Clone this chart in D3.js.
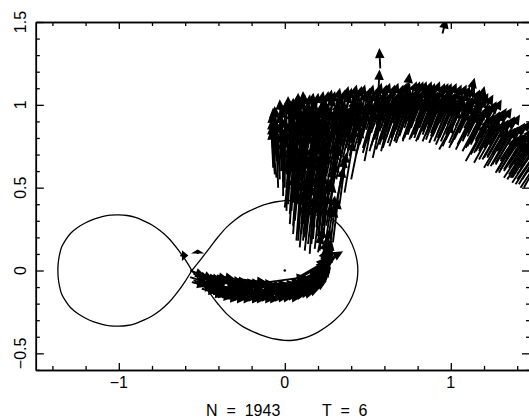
<!DOCTYPE html>
<html><head><meta charset="utf-8">
<script src="https://cdn.jsdelivr.net/npm/d3@7"></script>
<style>
body{margin:0;background:#fff}
svg{display:block}
text{font-family:"Liberation Sans",Arial,Helvetica,sans-serif;fill:#000}
</style>
</head><body>
<svg id="chart" width="529" height="419"></svg>
<script>
// ---------- axis ticks ----------
const xTicksMajor = [-1, 0, 1];
const xTickLabels = ["\u22121", "0", "1"];
const xTicksMinor = [-1.4, -1.2, -0.8, -0.6, -0.4, -0.2, 0.2, 0.4, 0.6, 0.8, 1.2, 1.4];
const yTicksMajor = [-0.5, 0, 0.5, 1, 1.5];
const yTickLabels = ["\u22120.5", "0", "0.5", "1", "1.5"];
const yTicksMinor = [-0.6, -0.4, -0.3, -0.2, -0.1, 0.1, 0.2, 0.3, 0.4, 0.6, 0.7, 0.8, 0.9, 1.1, 1.2, 1.3, 1.4];
const footerLabels = ["N  =  1943", "T  =  6"];

// ---------- Roche lobes (x, y) ----------
const primaryLobe = [
  [-0.56,0],[-0.50,0.075],[-0.45,0.14],[-0.40,0.205],[-0.35,0.262],[-0.30,0.305],[-0.25,0.34],
  [-0.20,0.365],[-0.15,0.387],[-0.10,0.403],[-0.05,0.415],[0.00,0.422],[0.05,0.421],[0.10,0.412],
  [0.15,0.396],[0.20,0.372],[0.25,0.34],[0.30,0.30],[0.35,0.25],[0.39,0.19],[0.42,0.12],[0.435,0.06],
  [0.44,0],
  [0.435,-0.06],[0.42,-0.12],[0.39,-0.19],[0.35,-0.25],[0.30,-0.30],[0.25,-0.34],[0.20,-0.372],
  [0.15,-0.396],[0.10,-0.412],[0.05,-0.421],[0.00,-0.422],[-0.05,-0.415],[-0.10,-0.403],[-0.15,-0.387],
  [-0.20,-0.365],[-0.25,-0.34],[-0.30,-0.305],[-0.35,-0.262],[-0.40,-0.205],[-0.45,-0.14],[-0.50,-0.075],
  [-0.56,0]
];
const secondaryLobe = [
  [-0.56,0],[-0.60,0.065],[-0.65,0.135],[-0.70,0.195],[-0.75,0.24],[-0.80,0.275],[-0.85,0.30],
  [-0.90,0.32],[-0.95,0.332],[-1.00,0.336],[-1.05,0.334],[-1.10,0.325],[-1.15,0.31],[-1.20,0.288],
  [-1.25,0.258],[-1.29,0.225],[-1.32,0.185],[-1.345,0.14],[-1.358,0.09],[-1.365,0.045],[-1.367,0],
  [-1.365,-0.045],[-1.358,-0.09],[-1.345,-0.14],[-1.32,-0.185],[-1.29,-0.225],[-1.25,-0.258],
  [-1.20,-0.288],[-1.15,-0.31],[-1.10,-0.325],[-1.05,-0.334],[-1.00,-0.336],[-0.95,-0.332],
  [-0.90,-0.32],[-0.85,-0.30],[-0.80,-0.275],[-0.75,-0.24],[-0.70,-0.195],[-0.65,-0.135],
  [-0.60,-0.065],[-0.56,0]
];
const centreMark = [[0.0, 0.0]];

// ---------- velocity arrows [x, y, u, v] ----------
const lowerStream = [
  [-0.57,0.00,0.08,-0.03],[-0.57,-0.04,0.09,-0.03],[-0.56,-0.07,0.08,-0.02],
  [-0.53,-0.01,0.09,-0.04],[-0.53,-0.05,0.10,-0.03],[-0.52,-0.09,0.09,-0.02],
  [-0.49,-0.03,0.10,-0.03],[-0.49,-0.07,0.09,-0.02],[-0.48,-0.11,0.10,-0.02],
  [-0.45,-0.03,0.10,-0.02],[-0.45,-0.08,0.10,-0.03],[-0.44,-0.13,0.09,-0.02],
  [-0.41,-0.03,0.10,-0.02],[-0.41,-0.09,0.11,-0.02],[-0.40,-0.14,0.10,-0.01],
  [-0.37,-0.05,0.11,-0.02],[-0.37,-0.10,0.10,-0.01],[-0.36,-0.15,0.10,-0.01],
  [-0.33,-0.06,0.10,-0.01],[-0.33,-0.11,0.11,-0.02],[-0.32,-0.15,0.10,-0.01],
  [-0.29,-0.07,0.11,-0.01],[-0.29,-0.11,0.10,-0.01],[-0.28,-0.16,0.11,0.00],
  [-0.25,-0.07,0.10,-0.01],[-0.25,-0.12,0.11,0.00],[-0.24,-0.16,0.10,-0.01],
  [-0.21,-0.08,0.11,0.00],[-0.21,-0.12,0.10,-0.01],[-0.20,-0.16,0.11,0.00],
  [-0.17,-0.08,0.10,0.00],[-0.17,-0.12,0.11,0.00],[-0.16,-0.16,0.10,0.00],
  [-0.13,-0.09,0.11,0.00],[-0.13,-0.13,0.10,0.01],[-0.12,-0.16,0.11,0.00],
  [-0.09,-0.09,0.10,0.01],[-0.09,-0.13,0.11,0.00],[-0.08,-0.16,0.10,0.01],
  [-0.05,-0.09,0.11,0.01],[-0.05,-0.12,0.10,0.01],[-0.04,-0.16,0.11,0.01],
  [-0.01,-0.08,0.10,0.01],[-0.01,-0.12,0.11,0.02],[0.00,-0.15,0.10,0.01],
  [0.03,-0.08,0.11,0.02],[0.03,-0.11,0.10,0.02],[0.04,-0.15,0.11,0.02],
  [0.07,-0.07,0.10,0.02],[0.07,-0.11,0.11,0.03],[0.08,-0.14,0.10,0.03],
  [0.11,-0.05,0.09,0.04],[0.11,-0.09,0.10,0.04],[0.12,-0.13,0.10,0.05],
  [0.15,-0.03,0.08,0.05],[0.15,-0.07,0.09,0.06],[0.16,-0.11,0.09,0.07],
  [0.18,0.00,0.06,0.07],[0.19,-0.04,0.07,0.08],[0.20,-0.08,0.07,0.09],
  [0.21,0.03,0.04,0.09],[0.24,0.00,0.04,0.10],[0.22,0.07,0.03,0.10],
  [0.25,0.04,0.03,0.10],[0.20,0.11,0.02,0.10],[0.24,0.10,0.02,0.10],
  [0.05,-0.06,0.29,0.17],[-0.10,-0.07,0.22,0.03],[0.10,-0.04,0.20,0.12],[-0.30,-0.05,0.18,-0.02],
  [-0.63,0.09,0.04,0.00],[-0.525,0.10,0.00,0.02]
];
const lowerStreamInner = [
  [-0.55,-0.02,0.09,-0.03],[-0.55,-0.06,0.09,-0.03],
  [-0.51,-0.03,0.10,-0.03],[-0.51,-0.07,0.09,-0.03],[-0.50,-0.11,0.09,-0.02],
  [-0.47,-0.05,0.10,-0.03],[-0.47,-0.09,0.10,-0.02],[-0.46,-0.13,0.09,-0.02],
  [-0.43,-0.05,0.10,-0.02],[-0.43,-0.11,0.10,-0.02],[-0.42,-0.15,0.10,-0.01],
  [-0.39,-0.06,0.10,-0.02],[-0.39,-0.12,0.10,-0.01],[-0.38,-0.16,0.10,-0.01],
  [-0.35,-0.08,0.11,-0.01],[-0.35,-0.13,0.10,-0.01],[-0.34,-0.17,0.10,0.00],
  [-0.31,-0.09,0.10,-0.01],[-0.31,-0.13,0.11,-0.01],[-0.30,-0.17,0.10,0.00],
  [-0.27,-0.09,0.11,0.00],[-0.27,-0.14,0.10,0.00],[-0.26,-0.17,0.11,0.00],
  [-0.23,-0.10,0.10,0.00],[-0.23,-0.14,0.11,0.00],[-0.22,-0.17,0.10,0.00],
  [-0.19,-0.10,0.11,0.00],[-0.19,-0.14,0.10,0.00],[-0.18,-0.17,0.11,0.00],
  [-0.15,-0.10,0.10,0.00],[-0.15,-0.14,0.11,0.01],[-0.14,-0.17,0.10,0.00],
  [-0.11,-0.11,0.11,0.00],[-0.11,-0.14,0.10,0.01],[-0.10,-0.17,0.11,0.01],
  [-0.07,-0.10,0.10,0.01],[-0.07,-0.14,0.11,0.01],[-0.06,-0.17,0.10,0.01],
  [-0.03,-0.10,0.11,0.01],[-0.03,-0.14,0.10,0.02],[-0.02,-0.17,0.11,0.01],
  [0.01,-0.10,0.10,0.02],[0.01,-0.13,0.11,0.02],[0.02,-0.16,0.10,0.02],
  [0.05,-0.09,0.11,0.02],[0.05,-0.13,0.10,0.03],[0.06,-0.16,0.11,0.03],
  [0.09,-0.07,0.10,0.03],[0.09,-0.11,0.10,0.04],[0.10,-0.15,0.10,0.04],
  [0.13,-0.05,0.09,0.05],[0.13,-0.09,0.09,0.05],[0.14,-0.13,0.10,0.06],
  [0.17,-0.02,0.07,0.07],[0.17,-0.06,0.08,0.07],[0.18,-0.10,0.08,0.08],
  [0.22,-0.05,0.05,0.09],[0.23,0.02,0.03,0.10],[0.26,0.07,0.02,0.10],[0.21,0.15,0.02,0.10],[0.25,0.14,0.02,0.10]
];
const columnStream = [
  [0.09,0.14,0.02,0.25],[0.12,0.12,0.03,0.27],[0.15,0.10,0.02,0.28],[0.18,0.13,0.03,0.26],
  [0.21,0.12,0.03,0.27],[0.24,0.14,0.04,0.25],[0.27,0.12,0.03,0.25],[0.11,0.18,0.02,0.26],
  [0.14,0.16,0.03,0.27],[0.17,0.19,0.02,0.25],[0.20,0.17,0.03,0.27],[0.23,0.19,0.03,0.26],
  [0.26,0.18,0.04,0.26],[0.29,0.17,0.03,0.25],
  [0.00,0.38,0.03,0.28],[0.03,0.34,0.02,0.30],[0.06,0.30,0.03,0.30],[0.09,0.36,0.02,0.28],
  [0.12,0.32,0.04,0.30],[0.15,0.38,0.03,0.27],[0.18,0.33,0.04,0.29],[0.21,0.37,0.03,0.28],
  [0.24,0.31,0.05,0.30],[0.27,0.36,0.04,0.28],[0.30,0.33,0.05,0.28],[0.02,0.43,0.02,0.27],
  [0.05,0.41,0.03,0.28],[0.08,0.44,0.03,0.27],[0.11,0.42,0.02,0.28],[0.14,0.45,0.04,0.26],
  [0.17,0.41,0.03,0.28],[0.20,0.44,0.04,0.27],[0.23,0.42,0.03,0.28],[0.26,0.45,0.05,0.27],
  [0.31,0.40,0.05,0.27],
  [-0.07,0.62,-0.01,0.25],[-0.05,0.56,-0.03,0.28],[-0.03,0.60,-0.02,0.28],[-0.01,0.53,0.00,0.31],
  [0.01,0.58,0.01,0.30],[0.04,0.52,0.03,0.31],[0.07,0.57,0.03,0.30],[0.10,0.51,0.04,0.32],
  [0.13,0.56,0.05,0.30],[0.16,0.50,0.04,0.32],[0.19,0.55,0.05,0.31],[0.22,0.52,0.05,0.31],
  [0.25,0.57,0.06,0.30],[0.28,0.50,0.05,0.31],[0.31,0.55,0.06,0.30],[0.34,0.52,0.06,0.30],
  [-0.06,0.70,-0.02,0.24],[-0.02,0.67,-0.01,0.27],[0.02,0.68,0.02,0.28],[0.06,0.66,0.04,0.29],
  [0.10,0.69,0.04,0.28],[0.14,0.65,0.05,0.30],[0.18,0.68,0.05,0.29],[0.22,0.66,0.06,0.29],
  [0.26,0.69,0.06,0.28],[0.30,0.65,0.07,0.30],
  [0.03,0.80,-0.01,0.24],[0.10,0.80,-0.01,0.24],[0.12,0.83,-0.01,0.24],
  [0.33,0.40,0.04,0.30],[0.36,0.47,0.05,0.30],[0.40,0.55,0.06,0.30]
];
const columnStreamInner = [
  [0.10,0.22,0.02,0.27],[0.13,0.25,0.03,0.26],[0.16,0.23,0.02,0.27],[0.19,0.26,0.03,0.26],
  [0.22,0.24,0.03,0.27],[0.25,0.27,0.04,0.25],
  [0.01,0.47,0.02,0.28],[0.04,0.49,0.02,0.27],[0.07,0.47,0.03,0.28],[0.10,0.48,0.03,0.27],
  [0.13,0.46,0.03,0.28],[0.16,0.47,0.04,0.28],[0.19,0.49,0.04,0.27],[0.22,0.47,0.04,0.28],
  [0.25,0.49,0.05,0.27],[0.28,0.46,0.05,0.28],
  [-0.04,0.64,-0.02,0.27],[0.00,0.62,0.00,0.29],[0.03,0.63,0.02,0.29],[0.08,0.61,0.03,0.30],
  [0.12,0.62,0.04,0.29],[0.16,0.60,0.05,0.30],[0.20,0.62,0.05,0.29],[0.24,0.61,0.06,0.29],
  [0.28,0.60,0.06,0.30],[0.32,0.61,0.07,0.29],
  [-0.04,0.74,-0.02,0.24],[0.00,0.74,0.00,0.26],[0.05,0.74,0.01,0.27],[0.08,0.76,0.02,0.26],
  [-0.07,0.66,-0.01,0.24],[-0.05,0.72,-0.02,0.25],[-0.03,0.55,-0.01,0.27],[-0.01,0.45,0.00,0.28],
  [0.01,0.36,0.01,0.28],[0.03,0.28,0.02,0.28],[0.05,0.22,0.02,0.28],[0.07,0.18,0.02,0.27],
  [0.04,0.62,0.02,0.27],[0.06,0.72,0.02,0.26],[0.09,0.58,0.03,0.28],[0.11,0.74,0.02,0.25],
  [0.13,0.40,0.03,0.28],[0.15,0.55,0.04,0.29],[0.17,0.72,0.04,0.26],[0.19,0.36,0.04,0.28],
  [0.21,0.58,0.05,0.28],[0.07,0.40,0.02,0.28],[0.10,0.28,0.03,0.28],[0.16,0.28,0.03,0.28],
  [-0.02,0.78,-0.01,0.24],[0.01,0.76,0.00,0.26],[0.08,0.82,0.00,0.24],[0.15,0.80,0.02,0.25]
];
const columnStreamCore = [
  [-0.06,0.58,-0.02,0.26],[-0.04,0.50,-0.01,0.28],[-0.02,0.60,-0.01,0.28],[0.00,0.50,0.00,0.29],
  [0.02,0.55,0.01,0.28],[0.05,0.46,0.02,0.29],[0.08,0.52,0.02,0.29],[0.11,0.56,0.03,0.28],
  [0.14,0.52,0.04,0.29],[0.17,0.56,0.04,0.28],[0.20,0.50,0.04,0.29],[0.23,0.55,0.05,0.29],
  [0.02,0.40,0.01,0.28],[0.04,0.36,0.02,0.29],[0.06,0.42,0.02,0.28],[0.09,0.39,0.03,0.28],
  [0.12,0.37,0.03,0.29],[0.15,0.42,0.03,0.28],[0.18,0.38,0.04,0.28],[0.21,0.41,0.04,0.28],
  [0.05,0.27,0.02,0.28],[0.08,0.25,0.02,0.28],[0.11,0.28,0.03,0.27],[0.14,0.30,0.03,0.27],
  [0.17,0.27,0.03,0.28],[0.20,0.30,0.04,0.27],[0.23,0.27,0.04,0.27],
  [0.08,0.18,0.02,0.27],[0.12,0.20,0.02,0.27],[0.16,0.16,0.03,0.27],[0.20,0.21,0.03,0.27],
  [-0.05,0.66,-0.02,0.26],[-0.01,0.70,-0.01,0.27],[0.03,0.72,0.01,0.27],[0.07,0.70,0.02,0.27],
  [0.12,0.72,0.03,0.27],[0.16,0.70,0.04,0.27],[0.20,0.72,0.05,0.27]
];
const arcStream = [
  [0.03,0.77,0.02,0.26],[0.04,0.72,0.02,0.24],[0.06,0.66,0.02,0.24],
  [0.08,0.79,0.02,0.25],[0.09,0.73,0.03,0.24],[0.11,0.68,0.03,0.25],
  [0.12,0.80,0.03,0.25],[0.14,0.74,0.03,0.24],[0.16,0.70,0.03,0.24],
  [0.16,0.81,0.04,0.25],[0.18,0.75,0.04,0.25],[0.20,0.70,0.04,0.24],
  [0.21,0.81,0.05,0.26],[0.22,0.76,0.04,0.24],[0.24,0.70,0.05,0.25],
  [0.25,0.82,0.05,0.25],[0.27,0.76,0.05,0.25],[0.29,0.71,0.05,0.24],
  [0.30,0.83,0.06,0.25],[0.31,0.77,0.05,0.24],[0.33,0.72,0.06,0.25],
  [0.34,0.84,0.06,0.25],[0.36,0.78,0.06,0.25],[0.38,0.73,0.06,0.24],
  [0.39,0.85,0.07,0.25],[0.40,0.79,0.06,0.24],[0.42,0.74,0.07,0.25],
  [0.44,0.84,0.07,0.25],[0.45,0.79,0.07,0.24],[0.47,0.74,0.07,0.24],
  [0.49,0.85,0.08,0.25],[0.50,0.80,0.07,0.24],[0.52,0.75,0.08,0.25],
  [0.53,0.86,0.08,0.25],[0.55,0.81,0.07,0.24],[0.57,0.76,0.08,0.24],
  [0.58,0.86,0.08,0.25],[0.60,0.82,0.08,0.24],[0.62,0.77,0.08,0.24],
  [0.63,0.87,0.08,0.24],[0.64,0.82,0.08,0.24],[0.66,0.78,0.08,0.23],
  [0.67,0.88,0.08,0.24],[0.69,0.83,0.08,0.24],[0.71,0.79,0.08,0.23],
  [0.72,0.89,0.09,0.24],[0.74,0.84,0.08,0.23],[0.76,0.80,0.08,0.23],
  [0.76,0.89,0.09,0.24],[0.78,0.84,0.09,0.24],[0.80,0.79,0.09,0.23],
  [0.81,0.89,0.09,0.23],[0.83,0.84,0.09,0.23],[0.85,0.79,0.09,0.23],
  [0.86,0.88,0.10,0.24],[0.88,0.83,0.09,0.23],[0.90,0.78,0.09,0.23],
  [0.90,0.88,0.10,0.24],[0.92,0.83,0.10,0.23],[0.94,0.78,0.10,0.23],
  [0.95,0.87,0.11,0.24],[0.97,0.82,0.10,0.23],[0.99,0.77,0.10,0.23],
  [1.00,0.86,0.11,0.24],[1.02,0.81,0.11,0.23],[1.04,0.76,0.11,0.22],
  [1.05,0.85,0.12,0.23],[1.07,0.80,0.11,0.22],[1.09,0.74,0.11,0.22],
  [1.10,0.83,0.12,0.23],[1.12,0.77,0.11,0.22],[1.14,0.71,0.11,0.22],
  [1.15,0.79,0.12,0.22],[1.17,0.73,0.12,0.22],[1.19,0.67,0.12,0.21],
  [1.20,0.75,0.13,0.22],[1.22,0.69,0.12,0.21],[1.24,0.63,0.12,0.21],
  [1.25,0.71,0.13,0.21],[1.27,0.65,0.13,0.21],[1.29,0.59,0.12,0.21],
  [1.30,0.67,0.14,0.21],[1.32,0.61,0.13,0.21],[1.34,0.55,0.13,0.20],
  [1.35,0.64,0.14,0.21],[1.37,0.58,0.14,0.21],[1.39,0.52,0.13,0.20],[1.42,0.62,0.14,0.20]
];
const arcStreamInner = [
  [0.05,0.80,0.02,0.24],[0.06,0.75,0.02,0.25],[0.07,0.70,0.03,0.24],
  [0.10,0.81,0.02,0.24],[0.11,0.76,0.03,0.25],[0.13,0.71,0.03,0.24],
  [0.14,0.82,0.03,0.24],[0.15,0.77,0.03,0.25],[0.17,0.73,0.04,0.24],
  [0.19,0.83,0.04,0.24],[0.20,0.78,0.04,0.25],[0.22,0.73,0.04,0.24],
  [0.23,0.84,0.05,0.24],[0.24,0.79,0.05,0.25],[0.26,0.74,0.05,0.24],
  [0.28,0.85,0.05,0.24],[0.29,0.80,0.05,0.25],[0.31,0.75,0.05,0.24],
  [0.32,0.86,0.06,0.24],[0.33,0.81,0.06,0.25],[0.35,0.76,0.06,0.24],
  [0.37,0.87,0.06,0.24],[0.38,0.82,0.06,0.25],[0.40,0.77,0.06,0.24],
  [0.41,0.87,0.07,0.24],[0.42,0.82,0.07,0.25],[0.44,0.77,0.07,0.24],
  [0.46,0.87,0.07,0.24],[0.47,0.82,0.07,0.25],[0.49,0.78,0.07,0.24],
  [0.51,0.88,0.07,0.24],[0.52,0.83,0.08,0.24],[0.54,0.79,0.07,0.24],
  [0.55,0.88,0.08,0.24],[0.57,0.84,0.08,0.24],[0.59,0.79,0.08,0.24],
  [0.60,0.89,0.08,0.23],[0.62,0.84,0.08,0.24],[0.64,0.80,0.08,0.24],
  [0.65,0.89,0.08,0.23],[0.67,0.85,0.08,0.24],[0.69,0.81,0.08,0.23],
  [0.70,0.90,0.09,0.23],[0.72,0.86,0.08,0.23],[0.74,0.82,0.08,0.23],
  [0.74,0.90,0.09,0.23],[0.76,0.86,0.09,0.23],[0.78,0.82,0.09,0.23],
  [0.79,0.90,0.09,0.23],[0.81,0.86,0.09,0.23],[0.83,0.82,0.09,0.23],
  [0.84,0.90,0.09,0.23],[0.86,0.86,0.09,0.23],[0.88,0.81,0.09,0.23],
  [0.88,0.89,0.10,0.23],[0.90,0.85,0.10,0.23],[0.92,0.80,0.10,0.23],
  [0.93,0.89,0.10,0.23],[0.95,0.85,0.10,0.23],[0.97,0.80,0.10,0.22],
  [0.98,0.88,0.11,0.23],[1.00,0.84,0.10,0.23],[1.02,0.79,0.11,0.22],
  [1.03,0.87,0.11,0.23],[1.05,0.83,0.11,0.22],[1.07,0.78,0.11,0.22],
  [1.08,0.86,0.12,0.22],[1.10,0.81,0.11,0.22],[1.12,0.76,0.11,0.22],
  [1.13,0.83,0.12,0.22],[1.15,0.78,0.12,0.22],[1.17,0.72,0.12,0.21],
  [1.18,0.80,0.12,0.22],[1.20,0.74,0.12,0.21],[1.22,0.68,0.12,0.21],
  [1.23,0.76,0.13,0.21],[1.25,0.70,0.12,0.21],[1.27,0.64,0.12,0.21],
  [1.28,0.72,0.13,0.21],[1.30,0.66,0.13,0.21],[1.32,0.60,0.13,0.20],
  [1.33,0.68,0.14,0.21],[1.35,0.62,0.13,0.20],[1.37,0.56,0.13,0.20],
  [1.38,0.64,0.14,0.20],[1.40,0.58,0.14,0.20],[1.43,0.55,0.13,0.20]
];
const arcStreamLow = [
  [0.28,0.72,0.05,0.24],[0.30,0.66,0.05,0.26],[0.33,0.73,0.05,0.24],[0.35,0.68,0.06,0.25],
  [0.37,0.74,0.06,0.24],[0.39,0.69,0.06,0.25],[0.41,0.75,0.06,0.24],[0.43,0.70,0.07,0.25],
  [0.45,0.76,0.07,0.23],[0.47,0.71,0.07,0.24],[0.49,0.77,0.07,0.23],[0.51,0.72,0.07,0.24],
  [0.53,0.78,0.07,0.23],[0.55,0.73,0.08,0.24],[0.57,0.79,0.08,0.23],[0.59,0.74,0.08,0.24],
  [0.61,0.80,0.08,0.22],[0.63,0.75,0.08,0.24],[0.65,0.81,0.08,0.22],[0.67,0.77,0.08,0.23],
  [0.69,0.82,0.08,0.22],[0.71,0.78,0.08,0.23],[0.73,0.82,0.09,0.22],[0.75,0.79,0.09,0.22],
  [0.77,0.82,0.09,0.22],[0.79,0.78,0.09,0.22],[0.81,0.82,0.09,0.22],[0.83,0.78,0.09,0.22],
  [0.85,0.82,0.10,0.22],[0.87,0.77,0.09,0.22],[0.89,0.81,0.10,0.22],[0.91,0.76,0.10,0.22],
  [0.93,0.80,0.10,0.22],[0.95,0.75,0.10,0.22],[0.97,0.79,0.11,0.22],[0.99,0.74,0.10,0.22],
  [1.01,0.78,0.11,0.22],[1.03,0.73,0.11,0.22],[1.05,0.77,0.11,0.22],[1.07,0.72,0.11,0.21],
  [1.10,0.75,0.12,0.22],[1.12,0.70,0.11,0.21],[1.15,0.72,0.12,0.21],[1.17,0.67,0.12,0.21],
  [1.20,0.68,0.12,0.21],[1.22,0.63,0.12,0.21],[1.25,0.64,0.13,0.21],[1.27,0.59,0.12,0.20],
  [1.30,0.61,0.13,0.20],[1.32,0.56,0.13,0.20],[1.35,0.58,0.13,0.20],[1.37,0.53,0.13,0.20],
  [1.40,0.55,0.14,0.20],[1.42,0.50,0.13,0.20]
];
const arcTails = [
  [0.48,0.66,0.06,0.30],[0.53,0.68,0.06,0.28],[0.58,0.72,0.07,0.28],[0.66,0.78,0.08,0.26],
  [0.72,0.80,0.08,0.26],[0.78,0.80,0.09,0.25],[0.93,0.73,0.08,0.15],[1.00,0.76,0.10,0.20],
  [1.09,0.66,0.12,0.22],[1.14,0.65,0.12,0.22],[1.20,0.62,0.13,0.22],[1.28,0.60,0.12,0.20],
  [1.36,0.56,0.12,0.20],[1.41,0.52,0.12,0.20],[1.44,0.50,0.10,0.18]
];
const strayArrows = [
  [0.575,1.22,-0.005,0.11],[0.95,1.43,0.02,0.08],[0.56,1.00,0.01,0.20],[0.72,0.96,0.03,0.22],
  [1.09,0.95,0.05,0.20],[1.15,0.90,0.05,0.20]
];

// ---------- scales ----------
const svg = d3.select("#chart");
const x = d3.scaleLinear().domain([-1.5, 1.5]).range([35.8, 533.8]);
const y = d3.scaleLinear().domain([-0.6, 1.5]).range([369.9, 22]);
const xRight = 530;

svg.append("defs").append("clipPath").attr("id", "plotclip")
  .append("rect").attr("x", x(-1.5)).attr("y", y(1.5))
  .attr("width", xRight - x(-1.5)).attr("height", y(-0.6) - y(1.5));

// ---------- axes (inward ticks) ----------
function styleAxis(g) {
  g.selectAll("path.domain").attr("stroke", "#000").attr("stroke-width", 1.5);
  g.selectAll(".tick line").attr("stroke", "#000").attr("stroke-width", 1.3);
  g.selectAll(".tick text").remove();
}
svg.append("g").attr("transform", `translate(0,${y(-0.6)})`)
  .call(d3.axisBottom(x).tickValues(xTicksMinor).tickSizeInner(-4).tickSizeOuter(0)).call(styleAxis);
svg.append("g").attr("transform", `translate(0,${y(-0.6)})`)
  .call(d3.axisBottom(x).tickValues(xTicksMajor).tickSizeInner(-7).tickSizeOuter(0)).call(styleAxis);
svg.append("g").attr("transform", `translate(0,${y(1.5)})`)
  .call(d3.axisTop(x).tickValues(xTicksMinor).tickSizeInner(-4).tickSizeOuter(0)).call(styleAxis);
svg.append("g").attr("transform", `translate(0,${y(1.5)})`)
  .call(d3.axisTop(x).tickValues(xTicksMajor).tickSizeInner(-7).tickSizeOuter(0)).call(styleAxis);
svg.append("g").attr("transform", `translate(${x(-1.5)},0)`)
  .call(d3.axisLeft(y).tickValues(yTicksMinor).tickSizeInner(-4).tickSizeOuter(0)).call(styleAxis);
svg.append("g").attr("transform", `translate(${x(-1.5)},0)`)
  .call(d3.axisLeft(y).tickValues(yTicksMajor).tickSizeInner(-8).tickSizeOuter(0)).call(styleAxis);
svg.append("g").attr("transform", `translate(${xRight},0)`)
  .call(d3.axisRight(y).tickValues(yTicksMinor).tickSizeInner(-4).tickSizeOuter(0)).call(styleAxis);
svg.append("g").attr("transform", `translate(${xRight},0)`)
  .call(d3.axisRight(y).tickValues(yTicksMajor).tickSizeInner(-8).tickSizeOuter(0)).call(styleAxis);

// tick labels
svg.append("g").selectAll("text").data(xTicksMajor).join("text")
  .attr("x", d => x(d)).attr("y", 387.5).attr("text-anchor", "middle")
  .style("font-size", "16px").text((d, i) => xTickLabels[i]);
svg.append("g").selectAll("text").data(yTicksMajor).join("text")
  .attr("transform", d => `translate(25.5,${y(d)}) rotate(-90)`)
  .attr("text-anchor", "middle").style("font-size", "16px").text((d, i) => yTickLabels[i]);

// footer
svg.append("text").attr("x", 206).attr("y", 415.5).style("font-size", "16px")
  .style("white-space", "pre").text(footerLabels[0]);
svg.append("text").attr("x", 322).attr("y", 415.5).style("font-size", "16px")
  .style("white-space", "pre").text(footerLabels[1]);

// ---------- plot content ----------
const plot = svg.append("g").attr("clip-path", "url(#plotclip)");
const lobeLine = d3.line().x(d => x(d[0])).y(d => y(d[1])).curve(d3.curveCatmullRom.alpha(0.5));
plot.selectAll("path.lobe").data([primaryLobe, secondaryLobe]).join("path")
  .attr("class", "lobe").attr("d", lobeLine)
  .attr("fill", "none").attr("stroke", "#000").attr("stroke-width", 1.3);

plot.selectAll("circle.mark").data(centreMark).join("circle")
  .attr("cx", d => x(d[0])).attr("cy", d => y(d[1])).attr("r", 1.3).attr("fill", "#000");

const headLen = 7, headHalf = 3.3;
function arrowPath(d) {
  const x0 = x(d[0]), y0 = y(d[1]), x1 = x(d[0] + d[2]), y1 = y(d[1] + d[3]);
  const dx = x1 - x0, dy = y1 - y0, L = Math.hypot(dx, dy) || 1;
  const ux = dx / L, uy = dy / L;
  const h = Math.min(headLen, L * 0.6);
  const bx = x1 - ux * h, by = y1 - uy * h;
  const px = -uy * headHalf, py = ux * headHalf;
  return `M${x0},${y0}L${bx},${by}M${x1},${y1}L${bx + px},${by + py}L${bx - px},${by - py}Z`;
}
const allArrows = [].concat(lowerStream, lowerStreamInner, columnStream, columnStreamInner,
  columnStreamCore, arcStream, arcStreamInner, arcStreamLow, arcTails, strayArrows);
plot.selectAll("path.arrow").data(allArrows).join("path")
  .attr("class", "arrow").attr("d", arrowPath)
  .attr("fill", "#000").attr("stroke", "#000").attr("stroke-width", 1.9)
  .attr("stroke-linejoin", "miter");
</script>
</body></html>
